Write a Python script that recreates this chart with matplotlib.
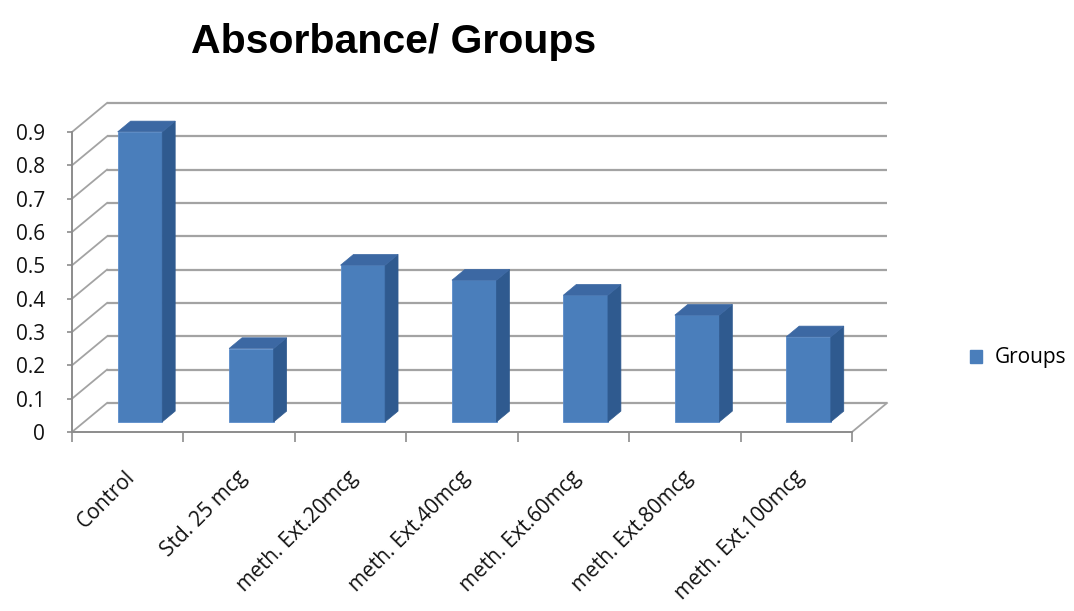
import matplotlib
matplotlib.use("Agg")
import matplotlib.pyplot as plt
import matplotlib.transforms as mtransforms
from matplotlib.patches import Polygon, Patch
import numpy as np

# ---- data ----
categories = ["Control", "Std. 25 mcg", "meth. Ext.20mcg", "meth. Ext.40mcg",
              "meth. Ext.60mcg", "meth. Ext.80mcg", "meth. Ext.100mcg"]
values = [0.87, 0.22, 0.47, 0.425, 0.38, 0.32, 0.255]
series_name = "Groups"
yticks = [0, 0.1, 0.2, 0.3, 0.4, 0.5, 0.6, 0.7, 0.8, 0.9]
ytick_labels = ["0", "0.1", "0.2", "0.3", "0.4", "0.5", "0.6", "0.7", "0.8", "0.9"]
title = "Absorbance/ Groups"

# ---- style ----
W, H = 1074, 611
fig = plt.figure(figsize=(W / 100, H / 100), dpi=100)
fig.patch.set_facecolor("white")
font = ["Open Sans", "DejaVu Sans"]

ax = fig.add_axes([72 / W, 179 / H, 780 / W, 300 / H])
ax.set_xlim(-0.5, len(categories) - 0.5)
ax.set_ylim(0, 0.9)
ax.set_facecolor("none")

# depth vector (back wall offset) in data units
dX, dY = 0.314, 0.087
f_front, f_back = 0.35, 0.72
fx, fy = f_front * dX, f_front * dY
bx, by = f_back * dX, f_back * dY
bw = 0.40

grid_c = "#a3a3a3"
axis_c = "#8c8c8c"
x0, x1 = -0.5, len(categories) - 0.5

# back wall gridlines and left side-wall diagonals
for v in yticks:
    ax.plot([x0 + dX, x1 + dX], [v + dY, v + dY], color=grid_c, lw=1.6,
            clip_on=False, zorder=1, solid_capstyle="butt")
    ax.plot([x0, x0 + dX], [v, v + dY], color=grid_c, lw=1.3,
            clip_on=False, zorder=1)
# floor right edge
ax.plot([x1, x1 + dX], [0, dY], color=grid_c, lw=1.3, clip_on=False, zorder=1)

# bars
xs = np.arange(len(categories))
front_c = "#4a7ebb"
side_c = "#2f5a8f"
top_c = "#3c68a3"
bars = ax.bar(xs + fx, values, width=bw, bottom=fy, color=front_c,
              edgecolor="#5b8ccb", linewidth=0.6, clip_on=False, zorder=3,
              label=series_name)
for x, v in zip(xs, values):
    L, R = x - bw / 2, x + bw / 2
    side = Polygon([(R + fx, fy), (R + bx, by), (R + bx, v + by), (R + fx, v + fy)],
                   closed=True, facecolor=side_c, edgecolor=side_c, lw=0.5,
                   clip_on=False, zorder=3)
    top = Polygon([(L + fx, v + fy), (R + fx, v + fy), (R + bx, v + by), (L + bx, v + by)],
                  closed=True, facecolor=top_c, edgecolor=top_c, lw=0.5,
                  clip_on=False, zorder=3)
    ax.add_patch(side)
    ax.add_patch(top)

# spines
for s in ["top", "right"]:
    ax.spines[s].set_visible(False)
for s in ["left", "bottom"]:
    ax.spines[s].set_color(axis_c)
    ax.spines[s].set_linewidth(1.4)
    ax.spines[s].set_zorder(2)

# y ticks
ax.set_yticks(yticks)
ax.set_yticklabels(ytick_labels, fontfamily=font, fontsize=15, color="#111111")
ax.tick_params(axis="y", direction="out", length=3.6, width=1.2, color=axis_c, pad=16)

# x ticks: labels at centres, tick marks at boundaries
ax.set_xticks(xs)
ax.set_xticks(np.arange(len(categories) + 1) - 0.5, minor=True)
ax.set_xticklabels(categories, fontfamily=font, fontsize=15, color="#111111")
ax.tick_params(axis="x", which="major", length=0, pad=25)
ax.tick_params(axis="x", which="minor", direction="out", length=7, width=1.2, color=axis_c)
offset = mtransforms.ScaledTranslation(-3 / 100, 0, fig.dpi_scale_trans)
for lab in ax.get_xticklabels():
    lab.set_rotation(45)
    lab.set_ha("right")
    lab.set_va("top")
    lab.set_rotation_mode("anchor")
    lab.set_transform(lab.get_transform() + offset)

# title
fig.text(394 / W, 1 - 42 / H, title, ha="center", va="center",
         fontfamily=["Liberation Sans", "DejaVu Sans"], fontweight="bold", fontsize=29.5)

# legend
handle = Patch(facecolor=front_c, edgecolor=front_c, label=series_name)
leg = fig.legend(handles=[handle], loc="center", bbox_to_anchor=(1018 / W, 1 - 358 / H),
                 frameon=False, prop={"family": font, "size": 15},
                 handlelength=0.6, handleheight=0.6, handletextpad=0.6)

fig.savefig("out.png", dpi=100, facecolor="white")
